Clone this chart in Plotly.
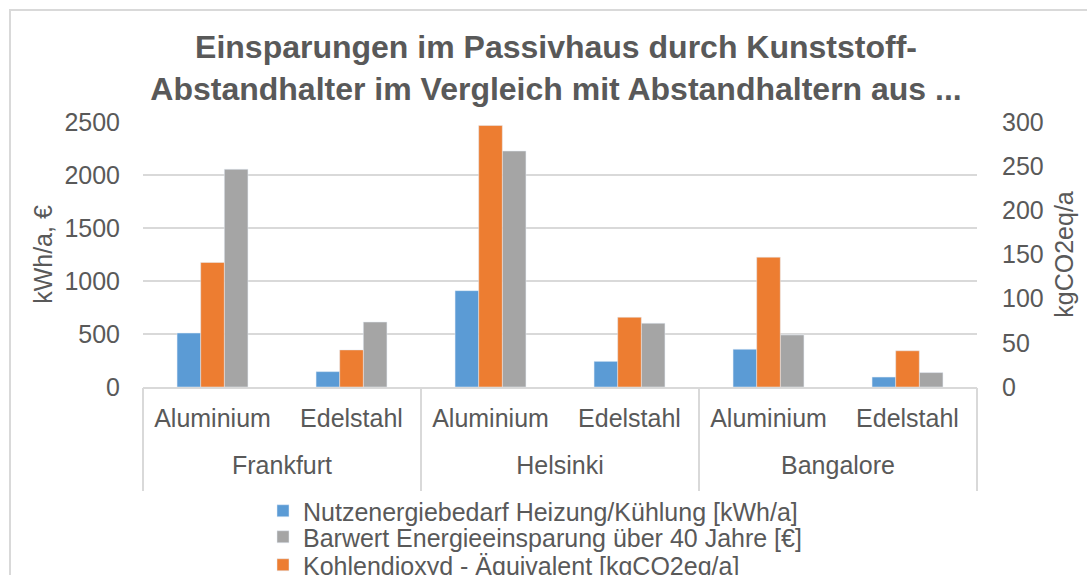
import plotly.graph_objects as go

# ---- data ----
cities = ["Frankfurt", "Frankfurt", "Helsinki", "Helsinki", "Bangalore", "Bangalore"]
materials = ["Aluminium", "Edelstahl", "Aluminium", "Edelstahl", "Aluminium", "Edelstahl"]
nutzenergie = [509, 145, 909, 242, 356, 94]          # kWh/a (left axis)
kohlendioxyd = [141, 42, 296, 79, 147, 41]            # kgCO2eq/a (right axis)
barwert = [2054, 613, 2226, 601, 491, 136]            # € (left axis)

name_nutz = "Nutzenergiebedarf Heizung/Kühlung [kWh/a]"
name_barwert = "Barwert Energieeinsparung über 40 Jahre [€]"
name_co2 = "Kohlendioxyd - Äquivalent [kgCO2eq/a]"

title_text = ("Einsparungen im Passivhaus durch Kunststoff-<br>"
              "Abstandhalter im Vergleich mit Abstandhaltern aus ...")
left_title = "kWh/a, €"
right_title = "kgCO2eq/a"

# ---- styling ----
BLUE, ORANGE, GRAY = "#5B9BD5", "#ED7D31", "#A5A5A5"
TXT = "#595959"
GRID = "#D9D9D9"
FONT = "Liberation Sans, Arial, sans-serif"

W, H = 1087, 575
L, R, T, B = 143, 110, 122, 188
PW, PH = W - L - R, H - T - B


def px_x(px):
    return (px - L) / PW


def px_y(py):
    return (H - B - py) / PH


# category keys (unique) built from the two label levels
keys = [f"{c} · {m}" for c, m in zip(cities, materials)]
n = len(keys)

# group centres / boundaries on the category index scale, derived from the data
groups = []
for i, c in enumerate(cities):
    if not groups or groups[-1][0] != c:
        groups.append([c, i, i])
    else:
        groups[-1][2] = i
group_names = [g[0] for g in groups]
group_centres = [(g[1] + g[2]) / 2 for g in groups]
group_bounds = [groups[0][1] - 0.5] + [g[2] + 0.5 for g in groups]
cat_range = [-0.5, n - 0.5]

fig = go.Figure()
fig.add_trace(go.Bar(x=keys, y=nutzenergie, name=name_nutz, marker_color=BLUE,
                     offsetgroup="a", yaxis="y", legend="legend"))
fig.add_trace(go.Bar(x=keys, y=kohlendioxyd, name=name_co2, marker_color=ORANGE,
                     offsetgroup="b", yaxis="y2", legend="legend3"))
fig.add_trace(go.Bar(x=keys, y=barwert, name=name_barwert, marker_color=GRAY,
                     offsetgroup="c", yaxis="y", legend="legend2"))
# empty helper traces so the group-label axis and the divider axis are drawn
fig.add_trace(go.Scatter(x=group_centres, y=[None] * len(group_centres), xaxis="x2", yaxis="y",
                         mode="markers", showlegend=False, hoverinfo="skip"))
fig.add_trace(go.Scatter(x=group_bounds, y=[None] * len(group_bounds), xaxis="x3", yaxis="y",
                         mode="markers", showlegend=False, hoverinfo="skip"))

legend_common = dict(xanchor="left", yanchor="middle", bgcolor="rgba(0,0,0,0)",
                     font=dict(family=FONT, size=25, color=TXT), borderwidth=0)

fig.update_layout(
    width=W, height=H,
    margin=dict(l=L, r=R, t=T, b=B, autoexpand=False),
    paper_bgcolor="white", plot_bgcolor="white",
    font=dict(family=FONT, color=TXT),
    showlegend=True,
    barmode="group", bargap=0.49, bargroupgap=0,
    title=dict(text=title_text, x=px_x(556), xref="paper", xanchor="center",
               y=1 - 58 / H, yref="container", yanchor="middle",
               font=dict(family=FONT, size=32, color=TXT, weight="bold")),
    xaxis=dict(type="category", range=cat_range, showgrid=False, ticks="",
               tickvals=keys, ticktext=materials, ticklabelstandoff=8,
               showline=True, linecolor=GRID, linewidth=1.5,
               tickfont=dict(family=FONT, size=25, color=TXT)),
    xaxis2=dict(type="linear", overlaying="x", anchor="y", side="bottom", range=cat_range,
                tickmode="array", tickvals=group_centres, ticktext=group_names,
                ticks="", showgrid=False, zeroline=False, showline=False,
                ticklabelstandoff=61, tickfont=dict(family=FONT, size=25, color=TXT)),
    xaxis3=dict(type="linear", overlaying="x", anchor="y", side="bottom", range=cat_range,
                tickmode="array", tickvals=group_bounds, showticklabels=False,
                ticks="outside", ticklen=103, tickwidth=1.5, tickcolor=GRID,
                showgrid=False, zeroline=False, showline=False),
    yaxis=dict(range=[0, 2500], dtick=500, showgrid=True, gridcolor=GRID, gridwidth=1.5,
               zeroline=False, showline=False, ticks="", ticklabelstandoff=22,
               tickfont=dict(family=FONT, size=25, color=TXT),
               title=dict(text=left_title, font=dict(family=FONT, size=25, color=TXT), standoff=4)),
    yaxis2=dict(range=[0, 300], dtick=50, overlaying="y", side="right", showgrid=False,
                zeroline=False, showline=False, ticks="", ticklabelstandoff=24,
                tickfont=dict(family=FONT, size=25, color=TXT),
                title=dict(text=right_title, font=dict(family=FONT, size=25, color=TXT), standoff=12)),
    legend=dict(x=px_x(263), y=px_y(511), **legend_common),
    legend2=dict(x=px_x(263), y=px_y(537), **legend_common),
    legend3=dict(x=px_x(263), y=px_y(565), **legend_common),
    shapes=[dict(type="rect", xref="paper", yref="paper",
                 x0=px_x(10), x1=px_x(1110), y0=px_y(600), y1=px_y(10),
                 line=dict(color=GRID, width=2), fillcolor="rgba(0,0,0,0)", layer="below")],
)

fig.write_html("out.html", config={"displayModeBar": False},
               post_script="document.body.style.margin='0';")
